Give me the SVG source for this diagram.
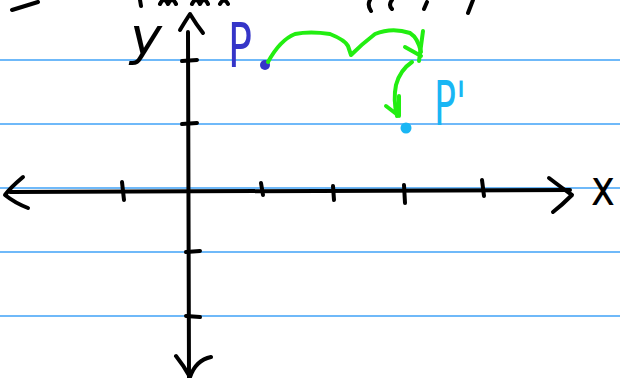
<svg xmlns="http://www.w3.org/2000/svg" width="620" height="378" viewBox="0 0 620 378">
<style>
.rule{stroke:#3fa2f7;stroke-width:1.5;fill:none}
.ink{stroke:#000;stroke-width:4;fill:none;stroke-linecap:round;stroke-linejoin:round}
.grn{stroke:#22ee11;stroke-width:4;fill:none;stroke-linecap:round;stroke-linejoin:round}
.lbl{font-family:"DejaVu Sans","Liberation Sans",sans-serif}
</style>
<rect width="620" height="378" fill="#fff"/>
<g id="rules">
<line class="rule" x1="0" y1="60" x2="620" y2="60"/>
<line class="rule" x1="0" y1="124" x2="620" y2="124"/>
<line class="rule" x1="0" y1="188" x2="620" y2="188"/>
<line class="rule" x1="0" y1="252" x2="620" y2="252"/>
<line class="rule" x1="0" y1="316" x2="620" y2="316"/>
</g>
<g id="top-strokes">
<path class="ink" d="M12 10 Q25 6 38 2"/>
<path class="ink" d="M140 0 L141 6"/>
<path class="ink" d="M160 4 Q164 -4 168 4 Q172 -4 176 4 M192 4 Q196 -4 200 4 Q204 -4 208 4 M220 4 Q224 -3 228 4"/>
<path class="ink" d="M370 0 Q367 5 371 11 M392 0 Q388 5 392 9 M427 2 L424 9 M473 0 L468 13"/>
</g>
<g id="axes">
<path class="ink" d="M10 192 L570 190"/>
<path class="ink" d="M23 177 Q10 188 5 195 Q15 203 28 208"/>
<path class="ink" d="M549 178 Q562 188 572 195 Q562 205 553 212"/>
<path class="ink" d="M188 32 L189 378"/>
<path class="ink" d="M180 30 Q186 20 190 14 Q196 24 203 33"/>
<path class="ink" d="M176 356 Q184 366 190 377 Q196 360 211 357"/>
</g>
<g id="ticks">
<path class="ink" d="M122 182 L124 200"/>
<path class="ink" d="M261 183 L263 195"/>
<path class="ink" d="M333 186 L334 200"/>
<path class="ink" d="M404 185 L405 203"/>
<path class="ink" d="M482 180 L484 196"/>
<path class="ink" d="M182 61 L197 60"/>
<path class="ink" d="M182 124 L197 123"/>
<path class="ink" d="M186 252 L200 251"/>
<path class="ink" d="M186 316 L200 317"/>
</g>
<g id="labels">
<text class="lbl" x="130" y="54" font-size="52" font-style="italic" textLength="32" lengthAdjust="spacingAndGlyphs">y</text>
<text class="lbl" x="591" y="205" font-size="50" textLength="24" lengthAdjust="spacingAndGlyphs">x</text>
</g>
<g id="P">
<text class="lbl" x="228" y="67" font-size="60" fill="#3535c8" textLength="24" lengthAdjust="spacingAndGlyphs">P</text>
<circle cx="265" cy="65" r="5" fill="#3535c8"/>
</g>
<g id="P-prime">
<text class="lbl" x="434" y="125" font-size="60" fill="#19b6f4" textLength="32" lengthAdjust="spacingAndGlyphs">P'</text>
<circle cx="406" cy="128" r="5.5" fill="#19b6f4"/>
</g>
<g id="connectors">
<path class="grn" d="M268 62 Q280 40 295 34 Q310 31 330 34 Q345 40 348 46 L351 55 Q362 44 375 34 Q392 27 410 33 Q418 38 421 52"/>
<path class="grn" d="M423 31 L419 61 M405 47 Q414 52 421 56"/>
<path class="grn" d="M412 62 Q400 70 396 85 Q393 100 397 116 M399 96 L399 116 L386 106"/>
</g>
</svg>
